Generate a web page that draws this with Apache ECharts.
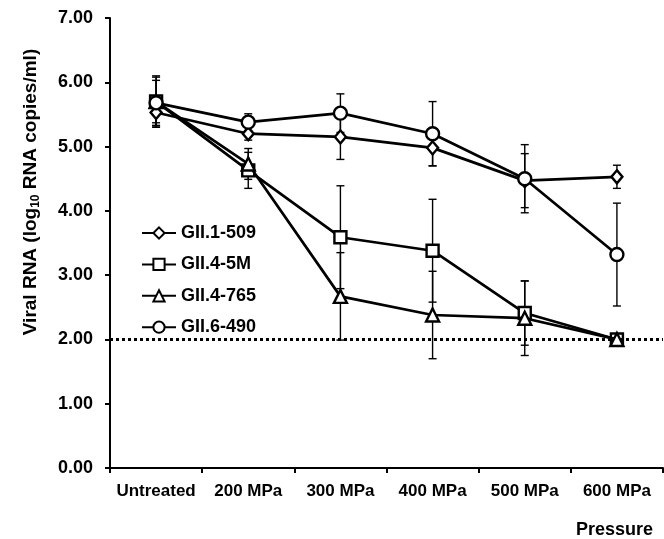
<!DOCTYPE html>
<html>
<head>
<meta charset="utf-8">
<script src="https://cdn.jsdelivr.net/npm/echarts@6/dist/echarts.min.js"></script>
<style>
html,body{margin:0;padding:0;background:#fff;}
#c{width:664px;height:539px;}
</style>
</head>
<body>
<div id="c"></div>
<script>
const categories = ['Untreated', '200 MPa', '300 MPa', '400 MPa', '500 MPa', '600 MPa'];
const yTicks = [0, 1, 2, 3, 4, 5, 6, 7];
const seriesNames = ['GII.1-509', 'GII.4-5M', 'GII.4-765', 'GII.6-490'];
const gii1_509 = [5.53, 5.20, 5.15, 4.98, 4.47, 4.53];
const gii1_509_err = [0.16, 0.10, 0.35, 0.28, 0.42, 0.18];
const gii4_5m = [5.70, 4.63, 3.59, 3.38, 2.41, 2.00];
const gii4_5m_err = [0.38, 0.28, 0.80, 0.80, 0.50, 0];
const gii4_765 = [5.70, 4.73, 2.67, 2.38, 2.33, 2.00];
const gii4_765_err = [0.40, 0.24, 0.68, 0.68, 0.58, 0];
const gii6_490 = [5.68, 5.38, 5.52, 5.20, 4.50, 3.32];
const gii6_490_err = [0.35, 0.13, 0.30, 0.50, 0.53, 0.80];
const detectionLimit = 2.0;
const yTitle = 'Viral RNA (log{sub|10} RNA copies/ml)';
const xTitle = 'Pressure';

const FONT = 'Liberation Sans';
const values = [gii1_509, gii4_5m, gii4_765, gii6_490];
const errs = [gii1_509_err, gii4_5m_err, gii4_765_err, gii6_490_err];
const symbols = ['diamond', 'rect', 'triangle', 'circle'];
const sizes = [[11, 13], 12, 13, 13];

const errData = [];
values.forEach((vals, s) => {
  vals.forEach((v, i) => {
    const e = errs[s][i];
    if (e > 0) errData.push([i, v - e, v + e]);
  });
});

const chart = echarts.init(document.getElementById('c'), null, {renderer: 'canvas'});

const lineSeries = values.map((vals, s) => ({
  name: seriesNames[s],
  type: 'line',
  data: vals,
  symbol: symbols[s],
  symbolSize: sizes[s],
  showAllSymbol: true,
  z: 3 + s,
  lineStyle: {color: '#000', width: 2.7},
  itemStyle: {color: '#fff', borderColor: '#000', borderWidth: 2.4},
  emphasis: {disabled: true},
  animation: false,
  markLine: s === 0 ? {
    silent: true,
    symbol: 'none',
    label: {show: false},
    lineStyle: {color: '#000', type: [3, 3], width: 3},
    data: [{yAxis: detectionLimit}]
  } : undefined
}));

chart.setOption({
  animation: false,
  backgroundColor: '#fff',
  textStyle: {fontFamily: FONT},
  title: {
    text: xTitle,
    right: 6,
    top: 516,
    textStyle: {fontFamily: FONT, fontWeight: 'bold', fontSize: 18, color: '#000'}
  },
  graphic: [{
    type: 'text',
    x: 31,
    y: 192,
    rotation: Math.PI / 2,
    silent: true,
    style: {
      text: yTitle,
      align: 'center',
      verticalAlign: 'middle',
      fontFamily: FONT, fontWeight: 'bold', fontSize: 19, fill: '#000',
      rich: {
        sub: {fontFamily: FONT, fontWeight: 'bold', fontSize: 12, fill: '#000', verticalAlign: 'bottom', padding: [9, 0, 0, 0]}
      }
    }
  }],
  grid: {left: 110, right: 1, top: 18, bottom: 71},
  legend: {
    orient: 'vertical',
    left: 136,
    top: 219,
    itemWidth: 34,
    itemHeight: 14,
    itemGap: 13.4,
    data: seriesNames,
    textStyle: {fontFamily: FONT, fontWeight: 'bold', fontSize: 18, color: '#000'}
  },
  xAxis: {
    type: 'category',
    data: categories,
    boundaryGap: true,
    axisLine: {lineStyle: {color: '#000', width: 2}},
    axisTick: {show: true, inside: false, length: 5, lineStyle: {color: '#000', width: 2}},
    axisLabel: {fontFamily: FONT, fontWeight: 'bold', fontSize: 17, color: '#000', margin: 15, interval: 0},
    splitLine: {show: false}
  },
  yAxis: {
    type: 'value',
    min: yTicks[0],
    max: yTicks[yTicks.length - 1],
    interval: 1,
    axisLine: {show: true, lineStyle: {color: '#000', width: 2}},
    axisTick: {show: true, inside: false, length: 5, lineStyle: {color: '#000', width: 2}},
    axisLabel: {fontFamily: FONT, fontWeight: 'bold', fontSize: 18, color: '#000', margin: 17,
      formatter: v => v.toFixed(2)},
    splitLine: {show: false}
  },
  series: [
    {
      type: 'custom',
      name: 'err',
      z: 1,
      silent: true,
      data: errData,
      encode: {x: 0, y: [1, 2]},
      renderItem: function (params, api) {
        const x = api.value(0);
        const lo = api.coord([x, api.value(1)]);
        const hi = api.coord([x, api.value(2)]);
        const w = 4;
        const st = {stroke: '#000', lineWidth: 1.4};
        return {
          type: 'group',
          children: [
            {type: 'line', shape: {x1: lo[0], y1: lo[1], x2: hi[0], y2: hi[1]}, style: st},
            {type: 'line', shape: {x1: lo[0] - w, y1: lo[1], x2: lo[0] + w, y2: lo[1]}, style: st},
            {type: 'line', shape: {x1: hi[0] - w, y1: hi[1], x2: hi[0] + w, y2: hi[1]}, style: st}
          ]
        };
      }
    }
  ].concat(lineSeries)
});
</script>
</body>
</html>
